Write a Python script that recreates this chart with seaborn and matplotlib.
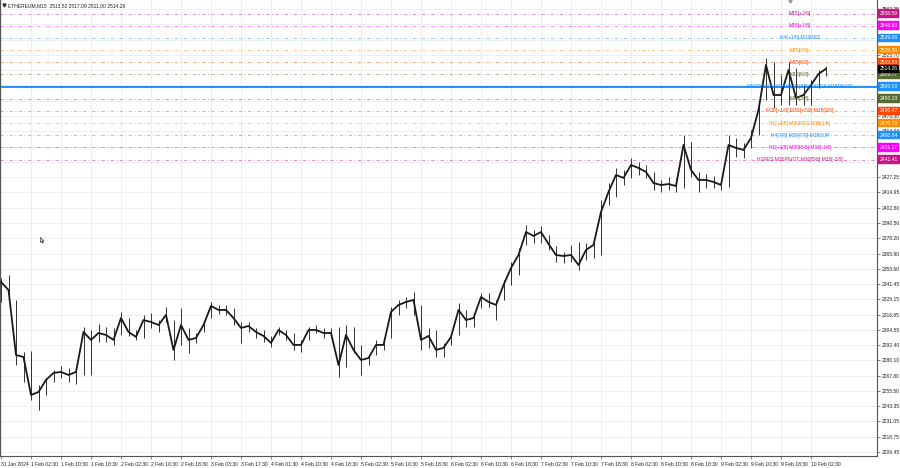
import matplotlib
matplotlib.use("Agg")
import matplotlib.pyplot as plt
import matplotlib.transforms as mtransforms
import pandas as pd
import seaborn as sns

sns.set_theme(style="white")
plt.rcParams['font.family'] = ['Liberation Sans', 'DejaVu Sans']

bar_index = list(range(0, 881, 8))
highs = [2346.3, 2348.7, 2328.6, 2286.8, 2287.7, 2260.3, 2266.0, 2272.4, 2275.6, 2274.0,
         2274.8, 2306.9, 2304.5, 2309.3, 2306.9, 2306.1, 2319.0, 2314.1, 2304.5, 2316.6,
         2318.2, 2312.5, 2323.0, 2312.5, 2322.2, 2306.1, 2302.1, 2310.9, 2327.0, 2324.6,
         2324.6, 2322.2, 2310.9, 2310.9, 2306.1, 2304.5, 2299.7, 2306.9, 2304.5, 2302.1,
         2296.5, 2306.9, 2308.5, 2306.1, 2306.1, 2306.9, 2308.5, 2306.9, 2292.5, 2284.4,
         2296.5, 2298.1, 2323.0, 2328.6, 2331.0, 2335.0, 2324.6, 2306.1, 2304.5, 2294.1,
         2302.1, 2326.2, 2320.6, 2318.2, 2334.2, 2334.2, 2328.6, 2344.7, 2359.1, 2370.4,
         2388.8, 2384.8, 2388.0, 2380.8, 2372.0, 2367.1, 2372.8, 2375.2, 2374.4, 2378.4,
         2408.9, 2422.5, 2434.6, 2433.0, 2442.6, 2439.4, 2437.0, 2431.4, 2425.0, 2427.4,
         2426.6, 2461.1, 2455.5, 2431.4, 2429.8, 2428.2, 2425.0, 2461.1, 2458.7, 2454.7,
         2465.1, 2485.2, 2522.9, 2519.7, 2509.3, 2519.7, 2514.9, 2501.2, 2505.3, 2513.3,
         2516.5]
lows = [2327.0, 2332.6, 2276.4, 2262.8, 2248.3, 2240.3, 2252.3, 2262.8, 2266.0, 2262.8,
        2261.2, 2268.4, 2268.4, 2294.9, 2294.9, 2292.5, 2300.5, 2299.7, 2296.5, 2298.1,
        2306.1, 2302.9, 2310.9, 2280.4, 2292.5, 2286.0, 2294.1, 2302.9, 2314.1, 2317.4,
        2316.6, 2308.5, 2294.1, 2302.9, 2298.1, 2294.9, 2290.9, 2300.5, 2296.5, 2288.5,
        2286.8, 2296.5, 2302.1, 2298.1, 2298.1, 2266.8, 2274.8, 2286.0, 2268.4, 2276.4,
        2284.4, 2288.5, 2298.1, 2316.6, 2322.2, 2316.6, 2288.5, 2290.1, 2282.8, 2282.8,
        2292.5, 2300.5, 2306.9, 2306.9, 2322.2, 2323.0, 2312.5, 2328.6, 2340.6, 2348.7,
        2372.8, 2374.4, 2374.4, 2368.8, 2359.1, 2358.3, 2359.1, 2352.7, 2360.7, 2362.3,
        2364.7, 2404.9, 2411.3, 2420.9, 2426.6, 2429.0, 2426.6, 2416.9, 2415.3, 2416.9,
        2415.3, 2418.5, 2427.4, 2415.3, 2418.5, 2418.5, 2416.9, 2419.3, 2443.4, 2442.6,
        2450.7, 2461.1, 2489.2, 2482.8, 2485.2, 2485.2, 2485.2, 2485.2, 2485.2, 2498.8,
        2508.5]
closes = [2343.1, 2336.6, 2284.4, 2282.8, 2252.3, 2254.7, 2264.4, 2270.0, 2270.8, 2268.4,
          2270.8, 2302.9, 2296.5, 2302.1, 2300.5, 2296.5, 2314.1, 2302.9, 2298.9, 2312.5,
          2310.9, 2308.5, 2316.6, 2288.5, 2308.5, 2296.5, 2298.1, 2308.5, 2323.8, 2320.6,
          2320.6, 2314.1, 2306.1, 2307.7, 2302.9, 2299.7, 2294.1, 2304.5, 2300.5, 2292.5,
          2292.5, 2304.5, 2304.5, 2302.1, 2302.1, 2276.4, 2300.5, 2288.5, 2280.4, 2282.0,
          2292.5, 2292.5, 2319.0, 2324.6, 2327.0, 2328.6, 2296.5, 2299.7, 2288.5, 2290.1,
          2298.9, 2320.6, 2312.5, 2314.1, 2331.0, 2327.0, 2324.6, 2340.6, 2354.3, 2364.7,
          2383.2, 2380.0, 2383.2, 2373.6, 2364.7, 2363.9, 2364.7, 2356.7, 2368.8, 2372.8,
          2399.3, 2415.3, 2429.0, 2426.6, 2437.0, 2434.6, 2431.4, 2422.5, 2420.9, 2421.7,
          2420.1, 2453.1, 2433.0, 2425.0, 2425.0, 2423.4, 2420.9, 2453.1, 2450.7, 2449.1,
          2458.7, 2481.2, 2517.3, 2493.2, 2493.2, 2513.3, 2490.8, 2493.2, 2501.2, 2510.1,
          2514.26]

time_labels = ["31 Jan 2024", "1 Feb 02:30", "1 Feb 10:30", "1 Feb 18:30", "2 Feb 02:30",
               "2 Feb 10:30", "2 Feb 18:30", "3 Feb 03:30", "3 Feb 17:30", "4 Feb 01:30",
               "4 Feb 10:30", "4 Feb 18:30", "5 Feb 02:30", "5 Feb 10:30", "5 Feb 18:30",
               "6 Feb 02:30", "6 Feb 10:30", "6 Feb 18:30", "7 Feb 02:30", "7 Feb 10:30",
               "7 Feb 18:30", "8 Feb 02:30", "8 Feb 10:30", "8 Feb 18:30", "9 Feb 02:30",
               "9 Feb 10:30", "9 Feb 18:30", "10 Feb 02:30"]
time_ticks = list(range(0, 32 * len(time_labels), 32))

# price scale; labels hidden under the level boxes are left blank
price_ticks = [2562.25, 2549.95, 2537.65, 2525.70, 2513.10, 2500.85, 2488.55, 2476.30,
               2464.00, 2451.70, 2439.55, 2427.25, 2414.95, 2402.80, 2390.50, 2378.20,
               2365.90, 2353.60, 2341.45, 2329.15, 2316.85, 2304.55, 2292.40, 2280.10,
               2267.80, 2255.50, 2243.35, 2231.05, 2218.75, 2206.45]
price_tick_labels = ["2562.25", "", "", "2525.70", "", "", "", "2476.30",
                     "2464.00", "", "", "2427.25", "2414.95", "2402.80", "2390.50", "2378.20",
                     "2365.90", "2353.60", "2341.45", "2329.15", "2316.85", "2304.55",
                     "2292.40", "2280.10", "2267.80", "2255.50", "2243.35", "2231.05",
                     "2218.75", "2206.45"]

# Murrey math levels drawn by the indicator
level_prices = [2558.59, 2548.83, 2539.06, 2529.30, 2519.53, 2509.77, 2500.00,
                2490.23, 2480.47, 2470.70, 2460.94, 2451.17, 2441.41]
level_names = ["M15[+2/8]", "M15[+1/8]", "H4[+1/8] M15RES", "M15[7/8]", "M15[6/8]",
               "M15[5/8]", "MN1PIVOT W1[4/8] D1[8/8] H4RES M15PIVOT", "M15[3/8]",
               "M30[+1/8] M30[+2/8] M15[2/8]", "H1[+2/8] M30RES M15[1/8]",
               "H4[7/8] M30[7/8] M15SUP", "H1[+1/8] M30[6/8] M15[-1/8]",
               "H1RES M30PIVOT M30[5/8] M15[-2/8]"]
level_colors = ["#C71585", "#FF00FF", "#1E90FF", "#FF8C00", "#FF4500", "#556B2F",
                "#1E90FF", "#556B2F", "#FF4500", "#FF8C00", "#1E90FF", "#FF00FF", "#C71585"]
last_price = 2514.26

df = pd.DataFrame({"bar": bar_index, "high": highs, "low": lows, "close": closes})

fig = plt.figure(figsize=(9, 4.68), dpi=100)
ax = fig.add_axes([0, 12 / 468, 877 / 900, 456 / 468])
ax.set_xlim(-1.07, 934.4)
ax.set_ylim(2203.3, 2569.5)

# grid
for t in time_ticks:
    ax.axvline(t, color="#ebebeb", lw=0.6, zorder=0)
for p in price_ticks:
    ax.axhline(p, color="#ebebeb", lw=0.6, zorder=0)

# level lines
for p, c in zip(level_prices, level_colors):
    if p == 2500.00:
        ax.axhline(p, color=c, lw=1.4, zorder=1)
    else:
        ax.axhline(p, color=c, lw=0.6, ls=(0, (4, 3, 1, 3)), alpha=0.55, zorder=1)

# price bars
ax.vlines(df["bar"], df["low"], df["high"], color="#303030", lw=0.7, zorder=3)
sns.lineplot(data=df, x="bar", y="close", color="#1a1a1a", lw=1.3, ax=ax, zorder=4)

for p, name, c in zip(level_prices, level_names, level_colors):
    ax.text(852, p, name, color=c, fontsize=3.6, ha="center", va="center", zorder=5)

# axes look
ax.spines["top"].set_visible(False)
for s in ["left", "right", "bottom"]:
    ax.spines[s].set_color("#555555")
    ax.spines[s].set_linewidth(0.8)
ax.set_xlabel("")
ax.set_ylabel("")
ax.set_xticks(time_ticks)
ax.set_xticklabels(time_labels, ha="left")
ax.yaxis.tick_right()
ax.set_yticks(price_ticks)
ax.set_yticklabels(price_tick_labels)
ax.tick_params(axis="both", labelsize=3.6, length=2, width=0.5, colors="#555555",
               labelcolor="#222222")
ax.tick_params(axis="x", bottom=True, pad=2)
ax.tick_params(axis="y", right=True, pad=1.5)

# price boxes on the right scale
trans = mtransforms.blended_transform_factory(ax.transAxes, ax.transData)
for p, c in zip(level_prices + [last_price], level_colors + ["#000000"]):
    ax.text(1.003, p, f"{p:.2f}", transform=trans, fontsize=3.6, color="white",
            ha="left", va="center", zorder=10, clip_on=False,
            bbox=dict(boxstyle="square,pad=0.35", fc=c, ec=c, lw=0.3))

# title, shift marker and mouse pointer
ax.text(0.009, 0.993, "ETHEREUM,M15  2513.52 2517.09 2511.00 2514.26",
        transform=ax.transAxes, fontsize=3.6, color="#222222", ha="left", va="top")
ax.plot([0.004], [0.988], marker="v", ms=2.2, color="#333333",
        transform=ax.transAxes, clip_on=False)
ax.plot([841.6], [2569.0], marker="v", ms=2.5, color="#999999", clip_on=False)
pointer = [(0, 0), (0, -10), (2.4, -7.8), (4.2, -11.6), (5.8, -10.9), (4.0, -7.2),
           (7.2, -7.2), (0, 0)]
ax.plot([41.6], [2379.0], marker=pointer, ms=8, mfc="white", mec="#333333",
        mew=0.5, zorder=6)

fig.savefig("out.png", dpi=100)
